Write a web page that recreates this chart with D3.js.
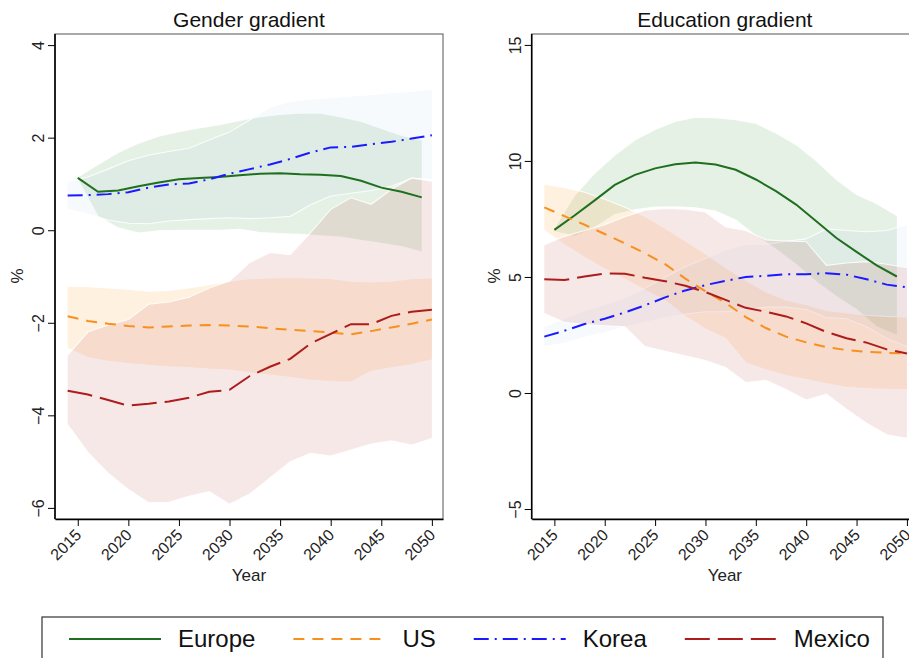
<!DOCTYPE html>
<html>
<head>
<meta charset="utf-8">
<script src="https://cdn.jsdelivr.net/npm/d3@7"></script>
<style>
    body { margin: 0; background: #fff; }
    svg { font-family: "Liberation Sans", Arial, sans-serif; }
</style>
</head>
<body>
<svg id="chart" width="909" height="658"></svg>
<script>
// years on which the projections are reported
var yearsEven = [2014, 2016, 2018, 2020, 2022, 2024, 2026, 2028, 2030, 2032,
    2034, 2036, 2038, 2040, 2042, 2044, 2046, 2048, 2050];
var yearsOdd = [2015, 2017, 2019, 2021, 2023, 2025, 2027, 2029, 2031, 2033,
    2035, 2037, 2039, 2041, 2043, 2045, 2047, 2049];

var yearTicks = [2015, 2020, 2025, 2030, 2035, 2040, 2045, 2050];
var genderTicks = [-6, -4, -2, 0, 2, 4];
var educationTicks = [-5, 0, 5, 10, 15];
var seriesNames = ["Europe", "US", "Korea", "Mexico"];

// Gender gradient (%)
var genderEurope = [1.13, 0.83, 0.86, 0.95, 1.03, 1.10, 1.13, 1.15, 1.19, 1.22, 1.23, 1.21, 1.20, 1.17, 1.07, 0.92, 0.83, 0.71];
var genderEuropeLo = [1.10, 0.30, 0.05, -0.06, -0.01, 0.00, 0.00, 0.00, 0.02, -0.05, -0.07, -0.09, -0.12, -0.15, -0.22, -0.28, -0.35, -0.47];
var genderEuropeHi = [1.15, 1.42, 1.68, 1.88, 2.03, 2.13, 2.21, 2.28, 2.37, 2.45, 2.50, 2.53, 2.53, 2.45, 2.35, 2.20, 2.05, 1.95];

var genderUS = [-1.86, -1.96, -2.02, -2.07, -2.10, -2.08, -2.06, -2.05, -2.06, -2.08, -2.12, -2.15, -2.18, -2.21, -2.25, -2.18, -2.10, -2.02, -1.93];
var genderUSLo = [-2.55, -2.75, -2.83, -2.88, -2.92, -2.95, -2.97, -3.00, -3.02, -3.08, -3.13, -3.18, -3.24, -3.27, -3.28, -3.05, -2.97, -2.90, -2.80];
var genderUSHi = [-1.21, -1.22, -1.25, -1.28, -1.32, -1.30, -1.25, -1.18, -1.10, -1.05, -1.03, -1.02, -1.03, -1.05, -1.10, -1.12, -1.10, -1.05, -1.03];

var genderKorea = [0.75, 0.76, 0.78, 0.82, 0.92, 0.99, 1.01, 1.10, 1.22, 1.32, 1.42, 1.54, 1.68, 1.79, 1.80, 1.86, 1.91, 1.98, 2.05];
var genderKoreaLo = [0.45, 0.35, 0.22, 0.15, 0.14, 0.20, 0.23, 0.25, 0.27, 0.25, 0.27, 0.30, 0.55, 0.74, 0.80, 0.86, 0.95, 1.12, 1.10];
var genderKoreaHi = [1.05, 1.15, 1.32, 1.50, 1.62, 1.70, 1.77, 1.95, 2.12, 2.38, 2.65, 2.78, 2.83, 2.86, 2.90, 2.93, 2.97, 3.00, 3.05];

var genderMexico = [-3.47, -3.55, -3.67, -3.79, -3.75, -3.70, -3.62, -3.49, -3.45, -3.15, -2.95, -2.78, -2.45, -2.24, -2.03, -2.03, -1.85, -1.76, -1.72];
var genderMexicoLo = [-4.20, -4.80, -5.25, -5.60, -5.89, -5.88, -5.75, -5.65, -5.92, -5.70, -5.35, -5.00, -4.82, -4.88, -4.75, -4.62, -4.55, -4.64, -4.50];
var genderMexicoHi = [-2.70, -2.20, -2.05, -1.93, -1.60, -1.55, -1.45, -1.25, -1.10, -0.70, -0.48, -0.53, -0.06, 0.45, 0.70, 0.56, 0.88, 1.13, 1.06];

// Education gradient (%)
var eduEurope = [7.03, 7.65, 8.30, 8.97, 9.40, 9.68, 9.86, 9.93, 9.85, 9.62, 9.20, 8.70, 8.12, 7.40, 6.68, 6.08, 5.50, 5.02];
var eduEuropeLo = [6.96, 6.75, 7.13, 7.69, 7.90, 8.01, 8.02, 7.98, 7.84, 7.46, 6.78, 6.20, 5.54, 4.80, 4.16, 3.60, 2.85, 2.50];
var eduEuropeHi = [7.10, 8.50, 9.47, 10.25, 10.90, 11.35, 11.70, 11.88, 11.86, 11.78, 11.62, 11.20, 10.70, 10.00, 9.20, 8.55, 8.15, 7.65];

var eduUS = [8.00, 7.62, 7.25, 6.85, 6.45, 6.02, 5.55, 4.93, 4.38, 3.88, 3.27, 2.80, 2.43, 2.18, 1.98, 1.85, 1.77, 1.73, 1.71];
var eduUSLo = [7.00, 6.39, 5.85, 5.35, 4.90, 4.44, 4.00, 3.31, 2.76, 2.36, 1.30, 1.00, 0.75, 0.58, 0.41, 0.25, 0.19, 0.16, 0.15];
var eduUSHi = [9.00, 8.85, 8.65, 8.35, 8.00, 7.60, 7.10, 6.55, 6.00, 5.40, 4.85, 4.35, 4.00, 3.80, 3.55, 3.45, 3.35, 3.30, 3.27];

var eduKorea = [2.43, 2.68, 2.97, 3.20, 3.47, 3.78, 4.12, 4.42, 4.65, 4.83, 5.00, 5.05, 5.12, 5.12, 5.16, 5.10, 4.90, 4.67, 4.55];
var eduKoreaLo = [2.00, 2.15, 2.40, 2.60, 2.85, 3.05, 3.25, 3.40, 3.50, 3.50, 3.60, 3.70, 3.70, 3.60, 3.25, 3.20, 2.85, 2.35, 2.00];
var eduKoreaHi = [2.86, 3.21, 3.54, 3.80, 4.09, 4.51, 4.99, 5.44, 5.80, 6.16, 6.40, 6.40, 6.54, 6.64, 7.07, 7.00, 6.95, 7.00, 7.25];

var eduMexico = [4.90, 4.87, 5.02, 5.15, 5.14, 4.97, 4.82, 4.62, 4.35, 4.01, 3.67, 3.50, 3.30, 3.00, 2.63, 2.36, 2.17, 1.88, 1.70];
var eduMexicoLo = [3.43, 3.05, 2.95, 2.90, 2.85, 2.00, 1.80, 1.60, 1.40, 1.10, 0.45, 0.55, 0.15, -0.30, -0.05, -0.70, -1.30, -1.80, -1.95];
var eduMexicoHi = [6.38, 6.75, 7.00, 7.25, 7.60, 7.88, 7.95, 7.92, 7.80, 7.15, 7.00, 6.60, 6.55, 6.52, 5.50, 5.60, 5.66, 5.55, 5.40];

var styles = {
    Europe: { color: "#1f6f1f", dash: null, fill: "#2e8b2e", opacity: 0.12 },
    US: { color: "#f7901e", dash: "11,8", fill: "#ff8c00", opacity: 0.12 },
    Korea: { color: "#1a1aff", dash: "15,6,2,6", fill: "#6aa6e0", opacity: 0.06 },
    Mexico: { color: "#ad1c1c", dash: "25,8", fill: "#b22222", opacity: 0.1 }
};

function rows(years, mid, lo, hi) {
    return years.map((yr, i) => ({ year: yr, mid: mid[i], lo: lo[i], hi: hi[i] }));
}

var svg = d3.select("svg#chart");

function drawPanel(opts) {
    var g = svg.append("g").attr("class", "panel");

    var x = d3.scaleLinear().domain([2012.75, 2051.1]).range([opts.left, opts.right]);
    var y = d3.scaleLinear().domain(opts.yDomain).range([519, 34]);

    // plot region outline
    g.append("rect")
        .attr("x", opts.left)
        .attr("y", 34)
        .attr("width", opts.right - opts.left)
        .attr("height", 519 - 34)
        .attr("fill", "none")
        .attr("stroke", "#555")
        .attr("stroke-width", 1);

    var area = d3.area()
        .x(d => x(d.year))
        .y0(d => y(d.lo))
        .y1(d => y(d.hi));
    var edgeHi = d3.line().x(d => x(d.year)).y(d => y(d.hi));
    var edgeLo = d3.line().x(d => x(d.year)).y(d => y(d.lo));
    var midLine = d3.line().x(d => x(d.year)).y(d => y(d.mid));

    opts.series.forEach(function(s) {
        var st = styles[s.name];
        g.append("path")
            .attr("d", area(s.data))
            .attr("fill", st.fill)
            .attr("fill-opacity", st.opacity);
        [edgeHi, edgeLo].forEach(function(edge) {
            g.append("path")
                .attr("d", edge(s.data))
                .attr("fill", "none")
                .attr("stroke", "#fff")
                .attr("stroke-opacity", 0.85)
                .attr("stroke-width", 1.1);
        });
    });

    opts.series.forEach(function(s) {
        var st = styles[s.name];
        g.append("path")
            .attr("d", midLine(s.data))
            .attr("fill", "none")
            .attr("stroke", st.color)
            .attr("stroke-width", 2)
            .attr("stroke-dasharray", st.dash);
    });

    var yAxis = g.append("g")
        .attr("transform", "translate(" + opts.left + ",0)")
        .call(d3.axisLeft(y).tickValues(opts.ticks).tickSize(7).tickSizeOuter(0));
    yAxis.select(".domain").attr("stroke-width", 1.6).attr("d", "M0,34V519");
    yAxis.selectAll("text")
        .attr("x", 0)
        .attr("dy", 0)
        .attr("text-anchor", "middle")
        .attr("transform", "translate(-11,0) rotate(-90)")
        .style("font-size", "16px")
        .attr("fill", "#222");

    var xAxis = g.append("g")
        .attr("transform", "translate(0,519)")
        .call(d3.axisBottom(x).tickValues(yearTicks).tickFormat(d3.format("d"))
            .tickSize(7).tickSizeOuter(0));
    xAxis.select(".domain").attr("stroke-width", 1.6);
    xAxis.selectAll("text")
        .attr("x", 0)
        .attr("y", 0)
        .attr("dy", 0)
        .attr("text-anchor", "end")
        .attr("transform", "translate(4,17) rotate(-45)")
        .style("font-size", "16px")
        .attr("fill", "#222");

    var cx = (opts.left + opts.right) / 2;

    g.append("text")
        .attr("x", cx)
        .attr("y", 27)
        .style("text-anchor", "middle")
        .style("font-size", "21px")
        .attr("fill", "#111")
        .text(opts.title);

    g.append("text")
        .attr("x", cx)
        .attr("y", 581)
        .style("text-anchor", "middle")
        .style("font-size", "17px")
        .attr("fill", "#222")
        .text("Year");

    g.append("text")
        .attr("transform", "translate(" + (opts.left - 32) + ",276) rotate(-90)")
        .style("text-anchor", "middle")
        .style("font-size", "17px")
        .attr("fill", "#222")
        .text("%");
}

drawPanel({
    left: 55,
    right: 443,
    yDomain: [-6.24, 4.24],
    ticks: genderTicks,
    title: "Gender gradient",
    series: [
        { name: "Europe", data: rows(yearsOdd, genderEurope, genderEuropeLo, genderEuropeHi) },
        { name: "US", data: rows(yearsEven, genderUS, genderUSLo, genderUSHi) },
        { name: "Korea", data: rows(yearsEven, genderKorea, genderKoreaLo, genderKoreaHi) },
        { name: "Mexico", data: rows(yearsEven, genderMexico, genderMexicoLo, genderMexicoHi) }
    ]
});

drawPanel({
    left: 531.7,
    right: 918,
    yDomain: [-5.43, 15.47],
    ticks: educationTicks,
    title: "Education gradient",
    series: [
        { name: "Europe", data: rows(yearsOdd, eduEurope, eduEuropeLo, eduEuropeHi) },
        { name: "US", data: rows(yearsEven, eduUS, eduUSLo, eduUSHi) },
        { name: "Korea", data: rows(yearsEven, eduKorea, eduKoreaLo, eduKoreaHi) },
        { name: "Mexico", data: rows(yearsEven, eduMexico, eduMexicoLo, eduMexicoHi) }
    ]
});

// legend
var legend = svg.append("g").attr("class", "legend");

legend.append("rect")
    .attr("x", 42)
    .attr("y", 617)
    .attr("width", 841)
    .attr("height", 60)
    .attr("fill", "#fff")
    .attr("stroke", "#333")
    .attr("stroke-width", 1.2);

var lx = 69;
seriesNames.forEach(function(name) {
    var st = styles[name];
    legend.append("line")
        .attr("x1", lx)
        .attr("x2", lx + 92)
        .attr("y1", 639)
        .attr("y2", 639)
        .attr("stroke", st.color)
        .attr("stroke-width", 2)
        .attr("stroke-dasharray", st.dash);
    var t = legend.append("text")
        .attr("x", lx + 109)
        .attr("y", 647)
        .style("font-size", "24px")
        .attr("fill", "#111")
        .text(name);
    lx = lx + 109 + t.node().getComputedTextLength() + 38;
});
</script>
</body>
</html>
